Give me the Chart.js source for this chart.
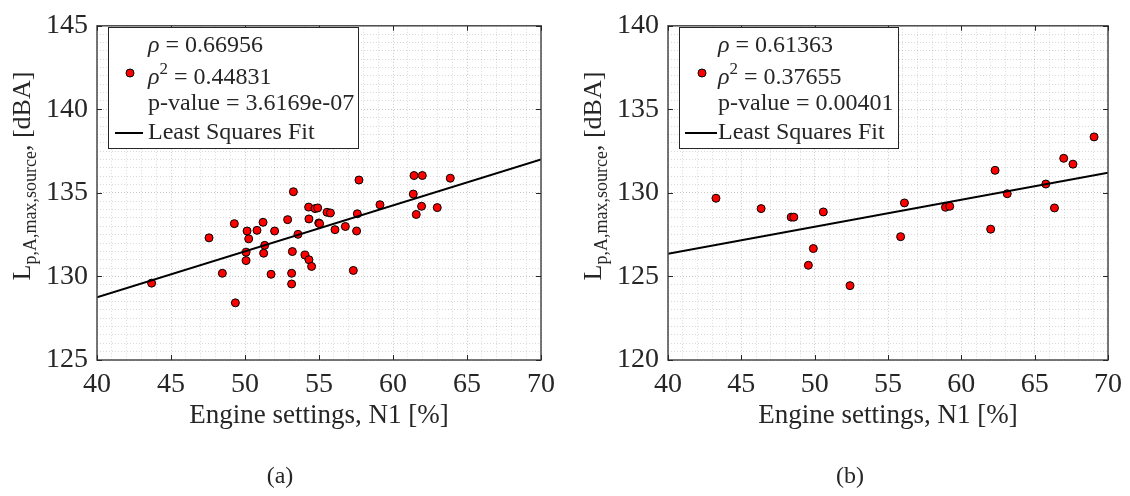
<!DOCTYPE html>
<html>
<head>
<meta charset="utf-8">
<script src="https://cdn.jsdelivr.net/npm/chart.js@4.4.0/dist/chart.umd.min.js"></script>
<style>
  html, body { margin: 0; padding: 0; background: #fff; }
  #wrap { position: relative; width: 1130px; height: 496px; }
  .panel { position: absolute; top: 0; width: 565px; height: 496px; }
</style>
</head>
<body>
<div id="wrap">
  <div class="panel" style="left:0"><canvas id="chartA" width="565" height="496"></canvas></div>
  <div class="panel" style="left:565px"><canvas id="chartB" width="565" height="496"></canvas></div>
</div>
<script>
// (a) engine setting vs level
const engineA = [43.69, 47.57, 48.47, 49.28, 49.35, 50.07, 50.07, 50.14, 50.25, 50.81, 51.22, 51.33, 51.26, 51.76,
  52.0, 52.88, 53.15, 53.15, 53.2, 53.27, 53.58, 54.05, 54.32, 54.5, 54.3, 54.32, 54.73, 54.91, 54.98, 55.04,
  55.54, 55.77, 56.08, 56.78, 57.32, 57.54, 57.59, 57.7, 59.12, 61.37, 61.42, 61.98, 61.57, 61.93, 62.99, 63.87];
const levelA = [129.6, 132.31, 130.19, 133.16, 128.42, 131.45, 130.95, 132.72, 132.25, 132.76, 133.24, 131.86, 131.39, 130.13,
  132.72, 133.4, 130.19, 129.55, 131.49, 135.07, 132.52, 131.28, 131.0, 130.6, 134.15, 133.44, 134.06, 134.1, 133.2, 133.16,
  133.84, 133.8, 132.8, 132.99, 130.36, 132.72, 133.75, 135.77, 134.29, 134.93, 136.04, 136.04, 133.71, 134.2, 134.12, 135.88];
const fitXA = [40, 70];
const fitYA = [128.75, 137.0];
const statsA = ['0.66956', '0.44831', '3.6169e-07'];

// (b)
const engineB = [43.27, 46.35, 48.4, 48.58, 49.57, 49.91, 50.59, 52.41, 55.86, 56.12, 58.92, 59.21, 62.0, 62.3,
  63.13, 65.76, 66.35, 66.98, 67.61, 69.05];
const levelB = [129.68, 129.06, 128.55, 128.55, 125.67, 126.67, 128.86, 124.45, 127.38, 129.4, 129.14, 129.2, 127.83, 131.35,
  129.95, 130.53, 129.1, 132.07, 131.72, 133.35];
const fitXB = [40, 70];
const fitYB = [126.35, 131.2];
const statsB = ['0.61363', '0.37655', '0.00401'];

const xTicks = [40, 45, 50, 55, 60, 65, 70];
const yTicksA = [125, 130, 135, 140, 145];
const yTicksB = [120, 125, 130, 135, 140];
const xTitle = 'Engine settings, N1 [%]';
const fitLabel = 'Least Squares Fit';

const serif = '"Liberation Serif", "Times New Roman", serif';
const ink = '#262626';

function drawYTitle(ctx, o) {
  const main = '26px ' + serif, sub = '18px ' + serif;
  ctx.font = main;
  const wL = ctx.measureText('L').width, wT = ctx.measureText(', [dBA]').width;
  ctx.font = sub;
  const wS = ctx.measureText('p,A,max,source').width;
  ctx.save();
  ctx.translate(o.titleBaseX, o.titleCenterY);
  ctx.rotate(-Math.PI / 2);
  ctx.fillStyle = ink;
  ctx.textAlign = 'left';
  ctx.textBaseline = 'alphabetic';
  let x = -(wL + wS + wT) / 2;
  ctx.font = main; ctx.fillText('L', x, 0); x += wL;
  ctx.font = sub; ctx.fillText('p,A,max,source', x, 6); x += wS;
  ctx.font = main; ctx.fillText(', [dBA]', x, 0);
  ctx.restore();
}

function drawMarker(ctx, x, y) {
  ctx.beginPath();
  ctx.arc(x, y, 4, 0, Math.PI * 2);
  ctx.fillStyle = '#ff0000';
  ctx.fill();
  ctx.lineWidth = 1;
  ctx.strokeStyle = '#000';
  ctx.stroke();
}

function drawLegend(ctx, L, stats) {
  ctx.fillStyle = '#fff';
  ctx.fillRect(L.x, L.y, L.w, L.h);
  ctx.strokeStyle = ink;
  ctx.lineWidth = 1;
  ctx.strokeRect(L.x + 0.5, L.y + 0.5, L.w, L.h);

  const f = '24px ' + serif, fi = 'italic 24px ' + serif, fs = '17px ' + serif;
  ctx.fillStyle = ink;
  ctx.textAlign = 'left';
  ctx.textBaseline = 'alphabetic';
  let x = L.textX;
  // rho
  ctx.font = fi; ctx.fillText('ρ', x, L.rows[0]); x += ctx.measureText('ρ').width;
  ctx.font = f; ctx.fillText(' = ' + stats[0], x, L.rows[0]);
  // rho^2
  x = L.textX;
  ctx.font = fi; ctx.fillText('ρ', x, L.rows[1]); x += ctx.measureText('ρ').width;
  ctx.font = fs; ctx.fillText('2', x, L.rows[1] - 10); x += ctx.measureText('2').width;
  ctx.font = f; ctx.fillText(' = ' + stats[1], x, L.rows[1]);
  // p-value
  ctx.fillText('p-value = ' + stats[2], L.textX, L.rows[2]);
  ctx.fillText(fitLabel, L.textX, L.rows[3]);

  drawMarker(ctx, L.markerX, L.markerY);
  ctx.beginPath();
  ctx.moveTo(L.lineX0, L.lineY);
  ctx.lineTo(L.lineX1, L.lineY);
  ctx.strokeStyle = '#000';
  ctx.lineWidth = 2;
  ctx.stroke();
}

const matlabFrame = {
  id: 'matlabFrame',
  afterDraw(chart, args, o) {
    const ctx = chart.ctx, a = chart.chartArea;
    const xs = chart.scales.x, ys = chart.scales.y;
    ctx.save();
    // axes box
    ctx.strokeStyle = '#4a4a4a';
    ctx.lineWidth = 1.5;
    ctx.strokeRect(a.left, a.top, a.right - a.left, a.bottom - a.top);
    // inward tick marks
    ctx.lineWidth = 1;
    ctx.strokeStyle = ink;
    ctx.beginPath();
    xTicks.forEach(v => {
      const px = Math.round(xs.getPixelForValue(v)) + 0.5;
      ctx.moveTo(px, a.bottom); ctx.lineTo(px, a.bottom - 5);
      ctx.moveTo(px, a.top); ctx.lineTo(px, a.top + 5);
    });
    o.yTicks.forEach(v => {
      const py = Math.round(ys.getPixelForValue(v)) + 0.5;
      ctx.moveTo(a.left, py); ctx.lineTo(a.left + 5, py);
      ctx.moveTo(a.right, py); ctx.lineTo(a.right - 5, py);
    });
    ctx.stroke();

    // axis titles and caption
    ctx.fillStyle = ink;
    ctx.textAlign = 'center';
    ctx.textBaseline = 'middle';
    ctx.font = '27px ' + serif;
    ctx.fillText(xTitle, (a.left + a.right) / 2, 416);
    ctx.font = '24px ' + serif;
    ctx.fillText(o.caption, o.captionX, 477);
    drawYTitle(ctx, o);
    drawLegend(ctx, o.legend, o.stats);
    ctx.restore();
  }
};

function gridColor(c) {
  return c.tick && Math.abs(c.tick.value % 5) < 1e-6 ? 'rgba(0,0,0,0.22)' : 'rgba(0,0,0,0.15)';
}

function makeChart(id, xs, ys, fx, fy, yMin, yMax, axisWidth, padRight, frame) {
  return new Chart(document.getElementById(id), {
    type: 'scatter',
    data: {
      datasets: [
        {
          type: 'line',
          data: fx.map((x, i) => ({x: x, y: fy[i]})),
          borderColor: '#000',
          borderWidth: 2,
          pointRadius: 0,
          fill: false,
          tension: 0,
          order: 0,
        },
        {
          type: 'scatter',
          data: xs.map((x, i) => ({x: x, y: ys[i]})),
          backgroundColor: '#ff0000',
          borderColor: '#000',
          borderWidth: 1,
          pointRadius: 4,
          order: 1,
        },
      ],
    },
    options: {
      responsive: false,
      animation: false,
      layout: { padding: { left: 0, right: padRight, top: 17, bottom: 0 } },
      plugins: { legend: { display: false }, tooltip: { enabled: false }, matlabFrame: frame },
      scales: {
        x: {
          type: 'linear', min: 40, max: 70,
          afterFit(s) { s.height = 136; },
          ticks: {
            stepSize: 1, autoSkip: false, maxRotation: 0, padding: 8, color: ink,
            font: { family: serif, size: 28 },
            callback: v => (Math.abs(v % 5) < 1e-6 ? v : ''),
          },
          grid: { color: gridColor, lineWidth: 1, drawTicks: false },
          border: { display: false, dash: [1, 2] },
        },
        y: {
          type: 'linear', min: yMin, max: yMax,
          afterFit(s) { s.width = axisWidth; },
          ticks: {
            stepSize: 0.5, autoSkip: false, padding: 9, color: ink,
            font: { family: serif, size: 28 },
            callback: v => (Math.abs(v % 5) < 1e-6 ? v : ''),
          },
          grid: { color: gridColor, lineWidth: 1, drawTicks: false },
          border: { display: false, dash: [1, 2] },
        },
      },
    },
    plugins: [matlabFrame],
  });
}

makeChart('chartA', engineA, levelA, fitXA, fitYA, 125, 145, 97, 24, {
  yTicks: yTicksA, stats: statsA, caption: '(a)', captionX: 280,
  titleBaseX: 30, titleCenterY: 176,
  legend: { x: 108, y: 27, w: 250, h: 121, textX: 148, rows: [52, 84, 110, 139],
    markerX: 130, markerY: 73, lineX0: 115, lineX1: 143, lineY: 133 },
});

makeChart('chartB', engineB, levelB, fitXB, fitYB, 120, 140, 103, 18, {
  yTicks: yTicksB, stats: statsB, caption: '(b)', captionX: 285,
  titleBaseX: 36, titleCenterY: 176,
  legend: { x: 114, y: 27, w: 219, h: 121, textX: 153, rows: [52, 84, 110, 139],
    markerX: 137, markerY: 73, lineX0: 120, lineX1: 152, lineY: 133 },
});
</script>
</body>
</html>
